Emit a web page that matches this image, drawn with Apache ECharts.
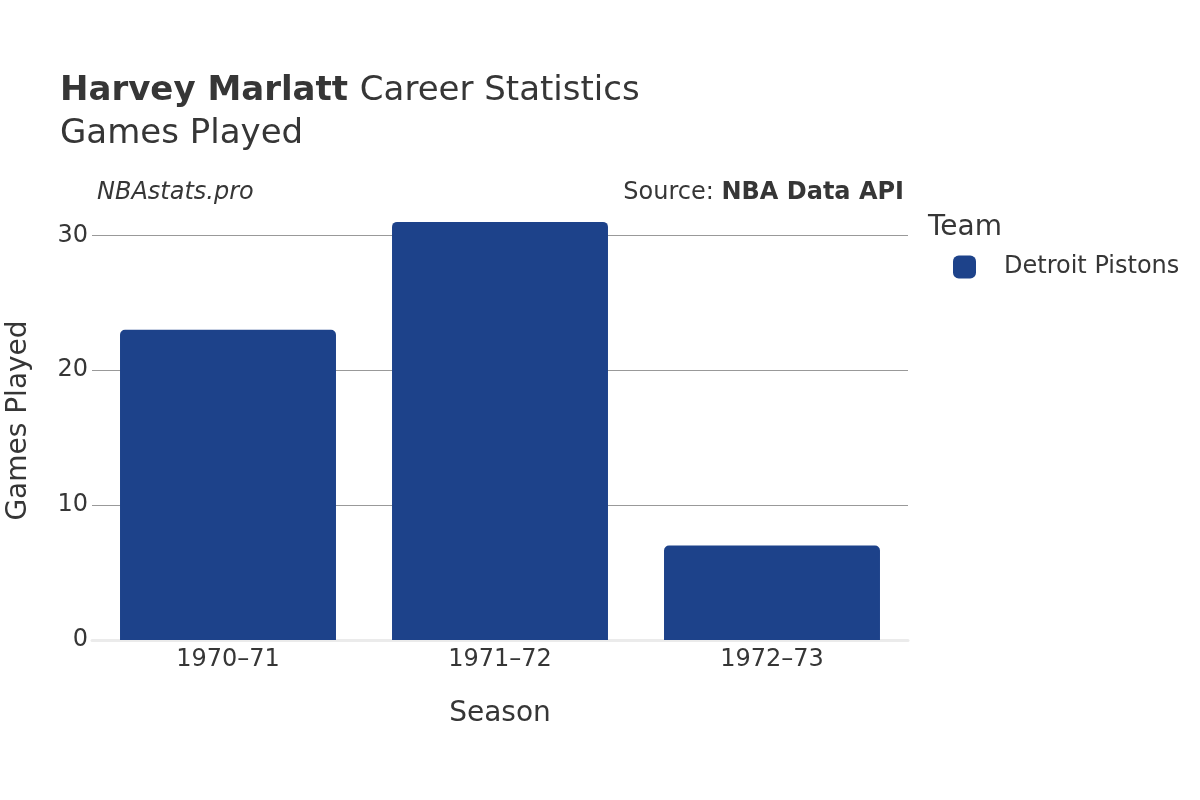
<!DOCTYPE html>
<html>
<head>
<meta charset="utf-8">
<script src="https://cdn.jsdelivr.net/npm/echarts@6/dist/echarts.min.js"></script>
<style>
html,body{margin:0;padding:0;background:#fff;}
#chart{width:1200px;height:800px;}
</style>
</head>
<body>
<div id="chart"></div>
<script>
const seasons = ['1970\u201371', '1971\u201372', '1972\u201373'];
const gamesPlayed = [23, 31, 7];
const teamName = 'Detroit Pistons';
const yTicks = [0, 10, 20, 30];

const FONT = 'DejaVu Sans';
const TXT = '#363636';
const chart = echarts.init(document.getElementById('chart'), null, {renderer: 'canvas'});
chart.setOption({
  backgroundColor: '#ffffff',
  textStyle: {fontFamily: FONT},
  title: [
    {
      text: '{b|Harvey Marlatt}{r| Career Statistics}',
      left: 60, top: 74, padding: 0,
      textStyle: {
        fontWeight: 'normal',
        rich: {
          b: {fontFamily: FONT, fontSize: 34, fontWeight: 'bold', color: TXT},
          r: {fontFamily: FONT, fontSize: 34, fontWeight: 'normal', color: TXT, padding: [0, 0, 0, 1]}
        }
      }
    },
    {
      text: 'Games Played',
      left: 60, top: 117, padding: 0,
      textStyle: {fontFamily: FONT, fontSize: 34, fontWeight: 'normal', color: TXT}
    },
    {
      text: 'NBAstats.pro',
      left: 97, top: 181, padding: 0,
      textStyle: {fontFamily: FONT, fontSize: 24, fontStyle: 'italic', fontWeight: 'normal', color: TXT}
    },
    {
      text: 'Source: {b|NBA Data API}',
      right: 296, top: 181, padding: 0,
      textStyle: {
        fontFamily: FONT, fontSize: 24, fontWeight: 'normal', color: TXT,
        rich: {b: {fontFamily: FONT, fontSize: 24, fontWeight: 'bold', color: TXT}}
      }
    },
    {
      text: 'Team',
      left: 928, top: 214, padding: 0,
      textStyle: {fontFamily: FONT, fontSize: 28, fontWeight: 'normal', color: TXT}
    }
  ],
  legend: {
    data: [teamName],
    left: 953, top: 255, padding: 0,
    orient: 'vertical',
    icon: 'roundRect',
    itemWidth: 23, itemHeight: 23,
    textStyle: {fontFamily: FONT, fontSize: 24, color: TXT, padding: [0, 0, 0, 23]}
  },
  grid: {left: 92, right: 292, top: 201, bottom: 160, containLabel: false, outerBoundsMode: 'none'},
  xAxis: {
    type: 'category',
    data: seasons,
    name: 'Season',
    nameLocation: 'middle',
    nameGap: 60,
    nameTextStyle: {fontFamily: FONT, fontSize: 28, color: TXT},
    axisLine: {show: true, lineStyle: {color: '#ebebeb', width: 3}},
    axisTick: {show: false},
    axisLabel: {fontFamily: FONT, fontSize: 24, color: TXT, margin: 8}
  },
  yAxis: {
    type: 'value',
    min: 0, max: 32.55, interval: 10,
    name: 'Games Played',
    nameLocation: 'middle',
    nameGap: 59,
    nameRotate: 90,
    nameTextStyle: {fontFamily: FONT, fontSize: 28, color: TXT},
    axisLine: {show: false},
    axisTick: {show: false},
    axisLabel: {
      fontFamily: FONT, fontSize: 24, color: TXT, margin: 4,
      showMaxLabel: false,
      formatter: function (v) { return yTicks.indexOf(v) >= 0 ? String(v) : ''; }
    },
    splitLine: {
      show: true, showMinLine: false, showMaxLine: false,
      lineStyle: {color: ['#999999', '#999999', '#999999', '#999999', 'rgba(0,0,0,0)'], width: 1}
    }
  },
  series: [{
    name: teamName,
    type: 'bar',
    data: gamesPlayed,
    barWidth: '79.4%',
    itemStyle: {color: '#1d428a', borderRadius: [5, 5, 0, 0]},
    emphasis: {disabled: true}
  }],
  animation: false
});
</script>
</body>
</html>
